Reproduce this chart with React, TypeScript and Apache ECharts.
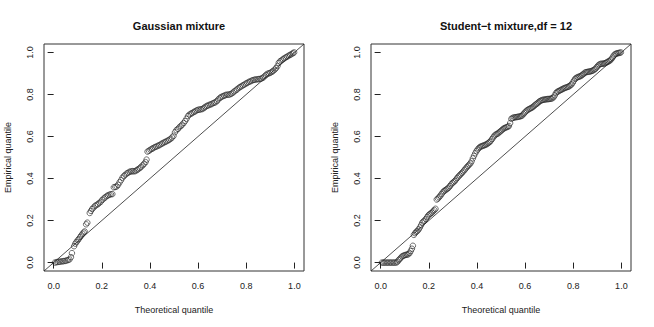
import React, { useEffect, useRef } from "react";
import * as echarts from "echarts";

const titles = ["Gaussian mixture", "Student\u2212t mixture,df = 12"];
const xAxisTitle = "Theoretical quantile";
const yAxisTitle = "Empirical quantile";
const tickValues = [0, 0.2, 0.4, 0.6, 0.8, 1.0];
const refLine = [[-0.04, -0.04], [1.04, 1.04]];

const gaussianPoints: number[][] = [
  [0.005,0.000],[0.012,0.002],[0.018,0.003],[0.024,0.004],[0.030,0.005],[0.036,0.006],[0.042,0.007],[0.048,0.008],[0.054,0.010],[0.060,0.012],[0.066,0.015],
  [0.072,0.026],[0.076,0.045],
  [0.085,0.078],[0.090,0.090],[0.095,0.098],[0.100,0.106],[0.105,0.113],[0.110,0.121],[0.115,0.129],[0.120,0.137],[0.125,0.143],[0.129,0.148],
  [0.135,0.182],[0.140,0.190],
  [0.150,0.236],[0.155,0.246],[0.160,0.255],[0.166,0.262],[0.172,0.270],[0.178,0.274],[0.184,0.278],[0.190,0.284],[0.196,0.290],[0.202,0.298],[0.208,0.305],[0.214,0.310],[0.220,0.316],[0.226,0.320],[0.232,0.323],[0.238,0.325],[0.244,0.326],
  [0.250,0.358],[0.256,0.360],[0.262,0.362],[0.268,0.370],[0.274,0.382],[0.280,0.392],[0.286,0.404],[0.292,0.412],[0.298,0.418],[0.304,0.424],[0.310,0.428],[0.316,0.432],[0.322,0.434],[0.328,0.435],[0.334,0.434],[0.340,0.436],[0.346,0.440],[0.352,0.445],[0.358,0.450],[0.364,0.456],[0.370,0.463],[0.376,0.470],[0.382,0.478],[0.386,0.490],
  [0.390,0.528],[0.396,0.532],[0.402,0.537],[0.408,0.541],[0.414,0.545],[0.420,0.549],[0.426,0.552],[0.432,0.555],[0.438,0.558],[0.444,0.562],[0.450,0.566],[0.456,0.570],[0.462,0.573],[0.468,0.577],[0.474,0.580],[0.480,0.584],[0.486,0.589],[0.492,0.595],[0.498,0.603],[0.504,0.620],[0.510,0.630],[0.516,0.636],[0.522,0.643],[0.528,0.650],[0.534,0.656],[0.540,0.664],[0.546,0.673],[0.552,0.684],[0.558,0.697],[0.564,0.704],[0.570,0.708],[0.576,0.712],[0.582,0.716],[0.588,0.720],[0.594,0.724],[0.600,0.727],[0.606,0.728],[0.612,0.729],[0.618,0.731],[0.624,0.735],[0.630,0.741],[0.636,0.745],[0.642,0.748],[0.648,0.751],[0.654,0.753],[0.660,0.757],[0.666,0.760],[0.672,0.763],[0.678,0.768],[0.684,0.776],[0.690,0.783],[0.696,0.788],[0.702,0.791],[0.708,0.794],[0.714,0.797],[0.720,0.799],[0.726,0.799],[0.732,0.800],[0.738,0.803],[0.744,0.808],[0.750,0.814],[0.756,0.819],[0.762,0.824],[0.768,0.830],[0.774,0.835],[0.780,0.839],[0.786,0.843],[0.792,0.847],[0.798,0.851],[0.804,0.855],[0.810,0.859],[0.816,0.862],[0.822,0.865],[0.828,0.868],[0.834,0.870],[0.840,0.871],[0.846,0.872],[0.852,0.873],[0.858,0.874],[0.864,0.876],[0.870,0.880],[0.876,0.886],[0.882,0.893],[0.888,0.898],[0.894,0.900],[0.900,0.903],[0.906,0.907],[0.912,0.912],[0.918,0.918],[0.924,0.925],[0.930,0.935],[0.935,0.950],[0.940,0.957],[0.946,0.962],[0.952,0.967],[0.958,0.972],[0.964,0.976],[0.970,0.980],[0.976,0.984],[0.982,0.988],[0.988,0.992],[0.994,0.996],[0.999,1.000]
];

const studentPoints: number[][] = [
  [0.005,0.000],[0.011,0.000],[0.017,0.000],[0.023,0.000],[0.029,0.000],[0.035,0.000],[0.041,0.000],[0.047,0.000],[0.053,0.000],[0.059,0.000],[0.065,0.000],[0.070,0.004],
  [0.075,0.012],[0.080,0.018],[0.085,0.024],[0.090,0.030],[0.095,0.033],[0.100,0.035],[0.105,0.037],[0.110,0.038],[0.115,0.040],[0.120,0.045],[0.125,0.055],[0.130,0.066],[0.134,0.080],
  [0.138,0.132],[0.143,0.140],[0.148,0.146],[0.153,0.151],[0.158,0.158],[0.163,0.167],[0.168,0.178],[0.173,0.190],[0.178,0.196],[0.183,0.200],[0.188,0.208],[0.193,0.216],[0.198,0.224],[0.203,0.230],[0.208,0.234],[0.213,0.238],[0.218,0.244],[0.223,0.250],[0.228,0.256],
  [0.233,0.300],[0.238,0.305],[0.243,0.311],[0.248,0.318],[0.253,0.326],[0.258,0.334],[0.263,0.340],[0.268,0.344],[0.273,0.348],[0.278,0.352],[0.283,0.357],[0.288,0.364],[0.293,0.372],[0.298,0.378],[0.303,0.383],[0.308,0.388],[0.313,0.395],[0.318,0.402],[0.323,0.409],[0.328,0.415],[0.333,0.421],[0.338,0.427],[0.343,0.433],[0.348,0.440],[0.353,0.447],[0.358,0.454],[0.363,0.460],[0.368,0.466],[0.373,0.472],[0.378,0.482],[0.383,0.496],[0.388,0.508],[0.393,0.520],[0.398,0.530],[0.403,0.538],[0.408,0.545],[0.413,0.550],[0.418,0.553],[0.423,0.555],[0.428,0.557],[0.433,0.559],[0.438,0.562],[0.443,0.565],[0.448,0.569],[0.453,0.574],[0.458,0.580],[0.463,0.588],[0.468,0.596],[0.473,0.604],[0.478,0.609],[0.483,0.612],[0.488,0.615],[0.493,0.620],[0.498,0.625],[0.503,0.630],[0.508,0.635],[0.513,0.639],[0.518,0.642],[0.523,0.644],[0.528,0.646],[0.533,0.650],[0.538,0.664],[0.543,0.684],[0.548,0.688],[0.553,0.690],[0.558,0.691],[0.563,0.692],[0.568,0.693],[0.573,0.694],[0.578,0.695],[0.583,0.697],[0.588,0.700],[0.593,0.706],[0.598,0.713],[0.603,0.719],[0.608,0.724],[0.613,0.728],[0.618,0.731],[0.623,0.734],[0.628,0.737],[0.633,0.741],[0.638,0.746],[0.643,0.751],[0.648,0.755],[0.653,0.760],[0.658,0.765],[0.663,0.769],[0.668,0.772],[0.673,0.774],[0.678,0.775],[0.683,0.776],[0.688,0.777],[0.693,0.778],[0.698,0.778],[0.703,0.779],[0.708,0.780],[0.713,0.782],[0.718,0.786],[0.723,0.795],[0.728,0.806],[0.733,0.812],[0.738,0.815],[0.743,0.818],[0.748,0.821],[0.753,0.824],[0.758,0.827],[0.763,0.830],[0.768,0.832],[0.773,0.834],[0.778,0.836],[0.783,0.839],[0.788,0.843],[0.793,0.848],[0.798,0.856],[0.803,0.866],[0.808,0.874],[0.813,0.879],[0.818,0.882],[0.823,0.884],[0.828,0.886],[0.833,0.889],[0.838,0.893],[0.843,0.898],[0.848,0.903],[0.853,0.906],[0.858,0.907],[0.863,0.908],[0.868,0.909],[0.873,0.910],[0.878,0.912],[0.883,0.915],[0.888,0.918],[0.893,0.923],[0.898,0.930],[0.903,0.937],[0.908,0.942],[0.913,0.945],[0.918,0.946],[0.923,0.946],[0.928,0.947],[0.933,0.949],[0.938,0.952],[0.943,0.955],[0.948,0.958],[0.953,0.962],[0.958,0.967],[0.963,0.975],[0.968,0.985],[0.973,0.991],[0.978,0.994],[0.983,0.996],[0.988,0.997],[0.993,0.998],[0.998,1.000]
];

const FONT = "Liberation Sans, Arial, Helvetica, sans-serif";

export default function App() {
  const ref = useRef<HTMLDivElement>(null);
  useEffect(() => {
    document.body.style.margin = "0";
    const chart = echarts.init(ref.current!, null, { renderer: "svg" });
    const panels = [gaussianPoints, studentPoints];
    const lefts = [44, 371];
    const grid = lefts.map((l) => ({
      left: l, top: 44, width: 260, height: 227,
      show: true, borderColor: "#333", borderWidth: 1, backgroundColor: "transparent",
    }));
    const labelFmt = (v: number) => v.toFixed(1);
    const xAxis = lefts.map((_, i) => ({
      type: "value", gridIndex: i, min: -0.04, max: 1.04,
      name: xAxisTitle, nameLocation: "middle", nameGap: 34,
      nameTextStyle: { fontFamily: FONT, fontSize: 9, color: "#222" },
      axisLine: { show: false },
      splitLine: { show: false },
      axisTick: { show: true, customValues: tickValues, length: 6, lineStyle: { color: "#222" } },
      axisLabel: { customValues: tickValues, formatter: labelFmt, margin: 10, fontFamily: FONT, fontSize: 9, color: "#222" },
    }));
    const yAxis = lefts.map((_, i) => ({
      type: "value", gridIndex: i, min: -0.04, max: 1.04,
      name: yAxisTitle, nameLocation: "middle", nameGap: 32, nameRotate: 90,
      nameTextStyle: { fontFamily: FONT, fontSize: 9, color: "#222" },
      axisLine: { show: false },
      splitLine: { show: false },
      axisTick: { show: true, customValues: tickValues, length: 6, lineStyle: { color: "#222" } },
      axisLabel: { customValues: tickValues, formatter: labelFmt, rotate: 90, margin: 10, fontFamily: FONT, fontSize: 9, color: "#222" },
    }));
    const series: any[] = [];
    panels.forEach((pts, i) => {
      series.push({
        type: "line", xAxisIndex: i, yAxisIndex: i, data: refLine, showSymbol: false, symbol: "none",
        lineStyle: { color: "#222", width: 0.8 }, silent: true, z: 1,
      });
      series.push({
        type: "scatter", xAxisIndex: i, yAxisIndex: i, data: pts, symbol: "circle", symbolSize: 5.5,
        itemStyle: { color: "rgba(0,0,0,0)", borderColor: "#222", borderWidth: 0.8 }, z: 2,
      });
    });
    chart.setOption({
      animation: false,
      backgroundColor: "#fff",
      title: titles.map((t, i) => ({
        text: t, left: lefts[i] + 130, top: 15, textAlign: "center",
        textStyle: { fontFamily: FONT, fontSize: 11, fontWeight: "bold", color: "#111" },
      })),
      grid, xAxis, yAxis, series,
    });
    return () => chart.dispose();
  }, []);
  return <div ref={ref} style={{ position: "fixed", left: 0, top: 0, width: 654, height: 327 }} />;
}
